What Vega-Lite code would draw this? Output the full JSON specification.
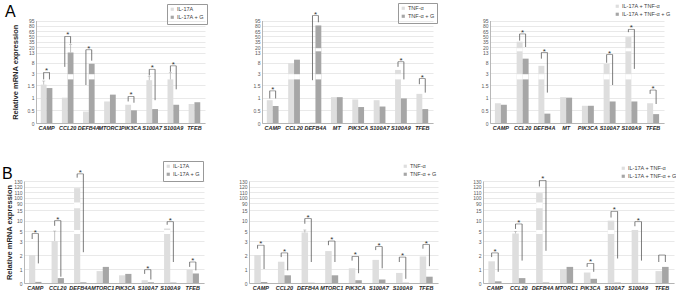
{
"$schema": "https://vega.github.io/schema/vega-lite/v6.json",
"autosize": {"type": "pad"},
"padding": {"left": 2, "top": 1, "right": 0, "bottom": 0},
"background": "white",
"config": {
  "view": {"stroke": null},
  "font": "Liberation Sans",
  "axis": {"labelOverlap": false, "labelFont": "Liberation Sans", "titleFont": "Liberation Sans", "domainColor": "#a6a6a6", "domainWidth": 0.8, "ticks": false},
  "axisY": {"grid": true, "gridColor": "#dadada", "gridWidth": 0.6, "labelFontSize": 5, "labelColor": "#595959", "labelPadding": 2, "titleFontSize": 7.5, "titleFontWeight": "bold", "titleColor": "#262626", "labelExpr": "'' + datum.value", "tickCount": 50},
  "axisX": {"grid": false, "labelAngle": 0, "labelFontSize": 5.5, "labelFontStyle": "italic", "labelFontWeight": "bold", "labelColor": "#262626", "labelPadding": 2},
  "legend": {"symbolType": "square", "symbolSize": 10, "labelFontSize": 5.5, "labelColor": "#404040", "padding": 2.5, "rowPadding": 1, "labelOffset": 2, "symbolStrokeWidth": 0, "labelFont": "Liberation Sans"}
},
"datasets": {
  "bars": [
    {"p":"TL","gene":"CAMP","grp":"IL-17A","v":1.55},{"p":"TL","gene":"CAMP","grp":"IL-17A + G","v":1.38},
    {"p":"TL","gene":"CCL20","grp":"IL-17A","v":1.0},{"p":"TL","gene":"CCL20","grp":"IL-17A + G","v":13},
    {"p":"TL","gene":"DEFB4A","grp":"IL-17A","v":0.45},{"p":"TL","gene":"DEFB4A","grp":"IL-17A + G","v":7.5},
    {"p":"TL","gene":"MTORC1","grp":"IL-17A","v":0.85},{"p":"TL","gene":"MTORC1","grp":"IL-17A + G","v":1.12},
    {"p":"TL","gene":"PIK3CA","grp":"IL-17A","v":0.72},{"p":"TL","gene":"PIK3CA","grp":"IL-17A + G","v":0.5},
    {"p":"TL","gene":"S100A7","grp":"IL-17A","v":2.1},{"p":"TL","gene":"S100A7","grp":"IL-17A + G","v":0.55},
    {"p":"TL","gene":"S100A9","grp":"IL-17A","v":2.2},{"p":"TL","gene":"S100A9","grp":"IL-17A + G","v":0.72},
    {"p":"TL","gene":"TFEB","grp":"IL-17A","v":0.75},{"p":"TL","gene":"TFEB","grp":"IL-17A + G","v":0.82},

    {"p":"TM","gene":"CAMP","grp":"TNF-α","v":0.9},{"p":"TM","gene":"CAMP","grp":"TNF-α + G","v":0.67},
    {"p":"TM","gene":"CCL20","grp":"TNF-α","v":7.8},{"p":"TM","gene":"CCL20","grp":"TNF-α + G","v":9.5},
    {"p":"TM","gene":"DEFB4A","grp":"TNF-α","v":0.02},{"p":"TM","gene":"DEFB4A","grp":"TNF-α + G","v":81},
    {"p":"TM","gene":"MT","grp":"TNF-α","v":1.02},{"p":"TM","gene":"MT","grp":"TNF-α + G","v":1.02},
    {"p":"TM","gene":"PIK3CA","grp":"TNF-α","v":0.93},{"p":"TM","gene":"PIK3CA","grp":"TNF-α + G","v":0.63},
    {"p":"TM","gene":"S100A7","grp":"TNF-α","v":0.9},{"p":"TM","gene":"S100A7","grp":"TNF-α + G","v":0.65},
    {"p":"TM","gene":"S100A9","grp":"TNF-α","v":4.5},{"p":"TM","gene":"S100A9","grp":"TNF-α + G","v":0.97},
    {"p":"TM","gene":"TFEB","grp":"TNF-α","v":1.15},{"p":"TM","gene":"TFEB","grp":"TNF-α + G","v":0.55},

    {"p":"TR","gene":"CAMP","grp":"IL-17A + TNF-α","v":0.78},{"p":"TR","gene":"CAMP","grp":"IL-17A + TNF-α + G","v":0.72},
    {"p":"TR","gene":"CCL20","grp":"IL-17A + TNF-α","v":35},{"p":"TR","gene":"CCL20","grp":"IL-17A + TNF-α + G","v":10},
    {"p":"TR","gene":"DEFB4A","grp":"IL-17A + TNF-α","v":6.5},{"p":"TR","gene":"DEFB4A","grp":"IL-17A + TNF-α + G","v":0.37},
    {"p":"TR","gene":"MT","grp":"IL-17A + TNF-α","v":1.02},{"p":"TR","gene":"MT","grp":"IL-17A + TNF-α + G","v":1.0},
    {"p":"TR","gene":"PIK3CA","grp":"IL-17A + TNF-α","v":0.68},{"p":"TR","gene":"PIK3CA","grp":"IL-17A + TNF-α + G","v":0.68},
    {"p":"TR","gene":"S100A7","grp":"IL-17A + TNF-α","v":7.4},{"p":"TR","gene":"S100A7","grp":"IL-17A + TNF-α + G","v":0.85},
    {"p":"TR","gene":"S100A9","grp":"IL-17A + TNF-α","v":48},{"p":"TR","gene":"S100A9","grp":"IL-17A + TNF-α + G","v":0.85},
    {"p":"TR","gene":"TFEB","grp":"IL-17A + TNF-α","v":0.78},{"p":"TR","gene":"TFEB","grp":"IL-17A + TNF-α + G","v":0.35},

    {"p":"BL","gene":"CAMP","grp":"IL-17A","v":2.0},{"p":"BL","gene":"CAMP","grp":"IL-17A + G","v":0.08},
    {"p":"BL","gene":"CCL20","grp":"IL-17A","v":3.0},{"p":"BL","gene":"CCL20","grp":"IL-17A + G","v":0.35},
    {"p":"BL","gene":"DEFB4A","grp":"IL-17A","v":117},{"p":"BL","gene":"DEFB4A","grp":"IL-17A + G","v":0.05},
    {"p":"BL","gene":"MTORC1","grp":"IL-17A","v":0.85},{"p":"BL","gene":"MTORC1","grp":"IL-17A + G","v":1.15},
    {"p":"BL","gene":"PIK3CA","grp":"IL-17A","v":0.55},{"p":"BL","gene":"PIK3CA","grp":"IL-17A + G","v":0.65},
    {"p":"BL","gene":"S100A7","grp":"IL-17A","v":0.2},{"p":"BL","gene":"S100A7","grp":"IL-17A + G","v":0.05},
    {"p":"BL","gene":"S100A9","grp":"IL-17A","v":6.2},{"p":"BL","gene":"S100A9","grp":"IL-17A + G","v":0.03},
    {"p":"BL","gene":"TFEB","grp":"IL-17A","v":0.95},{"p":"BL","gene":"TFEB","grp":"IL-17A + G","v":0.68},

    {"p":"BM","gene":"CAMP","grp":"TNF-α","v":2.0},{"p":"BM","gene":"CAMP","grp":"TNF-α + G","v":0.08},
    {"p":"BM","gene":"CCL20","grp":"TNF-α","v":1.52},{"p":"BM","gene":"CCL20","grp":"TNF-α + G","v":0.55},
    {"p":"BM","gene":"DEFB4A","grp":"TNF-α","v":4.7},{"p":"BM","gene":"DEFB4A","grp":"TNF-α + G","v":0.02},
    {"p":"BM","gene":"MTORC1","grp":"TNF-α","v":2.28},{"p":"BM","gene":"MTORC1","grp":"TNF-α + G","v":0.55},
    {"p":"BM","gene":"PIK3CA","grp":"TNF-α","v":1.05},{"p":"BM","gene":"PIK3CA","grp":"TNF-α + G","v":0.2},
    {"p":"BM","gene":"S100A7","grp":"TNF-α","v":1.65},{"p":"BM","gene":"S100A7","grp":"TNF-α + G","v":0.25},
    {"p":"BM","gene":"S100A9","grp":"TNF-α","v":0.72},{"p":"BM","gene":"S100A9","grp":"TNF-α + G","v":0.02},
    {"p":"BM","gene":"TFEB","grp":"TNF-α","v":1.9},{"p":"BM","gene":"TFEB","grp":"TNF-α + G","v":0.45},

    {"p":"BR","gene":"CAMP","grp":"IL-17A + TNF-α","v":1.55},{"p":"BR","gene":"CAMP","grp":"IL-17A + TNF-α + G","v":0.12},
    {"p":"BR","gene":"CCL20","grp":"IL-17A + TNF-α","v":4.5},{"p":"BR","gene":"CCL20","grp":"IL-17A + TNF-α + G","v":0.35},
    {"p":"BR","gene":"DEFB4A","grp":"IL-17A + TNF-α","v":108},{"p":"BR","gene":"DEFB4A","grp":"IL-17A + TNF-α + G","v":0.03},
    {"p":"BR","gene":"MTORC1","grp":"IL-17A + TNF-α","v":1.0},{"p":"BR","gene":"MTORC1","grp":"IL-17A + TNF-α + G","v":1.15},
    {"p":"BR","gene":"PIK3CA","grp":"IL-17A + TNF-α","v":0.75},{"p":"BR","gene":"PIK3CA","grp":"IL-17A + TNF-α + G","v":0.3},
    {"p":"BR","gene":"S100A7","grp":"IL-17A + TNF-α","v":10},{"p":"BR","gene":"S100A7","grp":"IL-17A + TNF-α + G","v":0.03},
    {"p":"BR","gene":"S100A9","grp":"IL-17A + TNF-α","v":5.5},{"p":"BR","gene":"S100A9","grp":"IL-17A + TNF-α + G","v":0.01},
    {"p":"BR","gene":"TFEB","grp":"IL-17A + TNF-α","v":0.85},{"p":"BR","gene":"TFEB","grp":"IL-17A + TNF-α + G","v":1.15}
  ],
  "err": [
    {"p":"TL","gene":"CAMP","grp":"IL-17A","lo":1.55,"hi":2.0},
    {"p":"TL","gene":"CCL20","grp":"IL-17A + G","lo":13,"hi":27},
    {"p":"TL","gene":"S100A7","grp":"IL-17A","lo":2.1,"hi":2.6},
    {"p":"TL","gene":"S100A9","grp":"IL-17A","lo":2.2,"hi":3.2},
    {"p":"BL","gene":"CCL20","grp":"IL-17A","lo":3.0,"hi":5.0},
    {"p":"BM","gene":"DEFB4A","grp":"TNF-α","lo":4.7,"hi":5.5},
    {"p":"BR","gene":"CCL20","grp":"IL-17A + TNF-α","lo":4.5,"hi":4.9}
  ],
  "brk": [
    {"p":"TL","gene":"CAMP","grp":"IL-17A","b":2.2,"t":3.3,"s":"*"},{"p":"TL","gene":"CAMP","grp":"IL-17A + G","b":2.2,"t":3.3,"s":"*"},
    {"p":"TL","gene":"CCL20","grp":"IL-17A","b":6,"t":50,"s":"*"},{"p":"TL","gene":"CCL20","grp":"IL-17A + G","b":30,"t":50,"s":"*"},
    {"p":"TL","gene":"DEFB4A","grp":"IL-17A","b":1.5,"t":16.5,"s":"*"},{"p":"TL","gene":"DEFB4A","grp":"IL-17A + G","b":9,"t":16.5,"s":"*"},
    {"p":"TL","gene":"PIK3CA","grp":"IL-17A","b":0.85,"t":1.05,"s":"*"},{"p":"TL","gene":"PIK3CA","grp":"IL-17A + G","b":0.8,"t":1.05,"s":"*"},
    {"p":"TL","gene":"S100A7","grp":"IL-17A","b":2.7,"t":4.8,"s":"*"},{"p":"TL","gene":"S100A7","grp":"IL-17A + G","b":0.9,"t":4.8,"s":"*"},
    {"p":"TL","gene":"S100A9","grp":"IL-17A","b":3.6,"t":6.5,"s":"*"},{"p":"TL","gene":"S100A9","grp":"IL-17A + G","b":1.33,"t":6.5,"s":"*"},

    {"p":"TM","gene":"CAMP","grp":"TNF-α","b":0.97,"t":1.27,"s":"*"},{"p":"TM","gene":"CAMP","grp":"TNF-α + G","b":0.97,"t":1.27,"s":"*"},
    {"p":"TM","gene":"DEFB4A","grp":"TNF-α","b":2.1,"t":109,"s":"*"},{"p":"TM","gene":"DEFB4A","grp":"TNF-α + G","b":90,"t":109,"s":"*"},
    {"p":"TM","gene":"S100A9","grp":"TNF-α","b":6,"t":8.5,"s":"*"},{"p":"TM","gene":"S100A9","grp":"TNF-α + G","b":2.2,"t":8.5,"s":"*"},
    {"p":"TM","gene":"TFEB","grp":"TNF-α","b":1.6,"t":2.3,"s":"*"},{"p":"TM","gene":"TFEB","grp":"TNF-α + G","b":1.2,"t":2.3,"s":"*"},

    {"p":"TR","gene":"CCL20","grp":"IL-17A + TNF-α","b":38,"t":57,"s":"*"},{"p":"TR","gene":"CCL20","grp":"IL-17A + TNF-α + G","b":20,"t":57,"s":"*"},
    {"p":"TR","gene":"DEFB4A","grp":"IL-17A + TNF-α","b":10,"t":13,"s":"*"},{"p":"TR","gene":"DEFB4A","grp":"IL-17A + TNF-α + G","b":1.2,"t":13,"s":"*"},
    {"p":"TR","gene":"S100A7","grp":"IL-17A + TNF-α","b":8,"t":12,"s":"*"},{"p":"TR","gene":"S100A7","grp":"IL-17A + TNF-α + G","b":1.5,"t":12,"s":"*"},
    {"p":"TR","gene":"S100A9","grp":"IL-17A + TNF-α","b":62,"t":70,"s":"*"},{"p":"TR","gene":"S100A9","grp":"IL-17A + TNF-α + G","b":5,"t":70,"s":"*"},
    {"p":"TR","gene":"TFEB","grp":"IL-17A + TNF-α","b":1.15,"t":1.3,"s":"*"},{"p":"TR","gene":"TFEB","grp":"IL-17A + TNF-α + G","b":0.75,"t":1.3,"s":"*"},

    {"p":"BL","gene":"CAMP","grp":"IL-17A","b":3.4,"t":4.5,"s":"*"},{"p":"BL","gene":"CAMP","grp":"IL-17A + G","b":1.4,"t":4.5,"s":"*"},
    {"p":"BL","gene":"CCL20","grp":"IL-17A","b":7.5,"t":10,"s":"*"},{"p":"BL","gene":"CCL20","grp":"IL-17A + G","b":0.45,"t":10,"s":"*"},
    {"p":"BL","gene":"DEFB4A","grp":"IL-17A","b":136,"t":143,"s":"*"},{"p":"BL","gene":"DEFB4A","grp":"IL-17A + G","b":2.2,"t":143,"s":"*"},
    {"p":"BL","gene":"S100A7","grp":"IL-17A","b":0.65,"t":0.95,"s":"*"},{"p":"BL","gene":"S100A7","grp":"IL-17A + G","b":0.25,"t":0.95,"s":"*"},
    {"p":"BL","gene":"S100A9","grp":"IL-17A","b":8,"t":9.5,"s":"*"},{"p":"BL","gene":"S100A9","grp":"IL-17A + G","b":1.5,"t":9.5,"s":"*"},
    {"p":"BL","gene":"TFEB","grp":"IL-17A","b":1.15,"t":1.5,"s":"*"},{"p":"BL","gene":"TFEB","grp":"IL-17A + G","b":0.9,"t":1.5,"s":"*"},

    {"p":"BM","gene":"CAMP","grp":"TNF-α","b":2.45,"t":2.7,"s":"*"},{"p":"BM","gene":"CAMP","grp":"TNF-α + G","b":1.0,"t":2.7,"s":"*"},
    {"p":"BM","gene":"CCL20","grp":"TNF-α","b":1.85,"t":2.15,"s":"*"},{"p":"BM","gene":"CCL20","grp":"TNF-α + G","b":0.9,"t":2.15,"s":"*"},
    {"p":"BM","gene":"DEFB4A","grp":"TNF-α","b":8.5,"t":11,"s":"*"},{"p":"BM","gene":"DEFB4A","grp":"TNF-α + G","b":1.5,"t":11,"s":"*"},
    {"p":"BM","gene":"MTORC1","grp":"TNF-α","b":2.7,"t":3.0,"s":"*"},{"p":"BM","gene":"MTORC1","grp":"TNF-α + G","b":1.5,"t":3.0,"s":"*"},
    {"p":"BM","gene":"PIK3CA","grp":"TNF-α","b":1.6,"t":1.9,"s":"*"},{"p":"BM","gene":"PIK3CA","grp":"TNF-α + G","b":0.7,"t":1.9,"s":"*"},
    {"p":"BM","gene":"S100A7","grp":"TNF-α","b":2.35,"t":2.6,"s":"*"},{"p":"BM","gene":"S100A7","grp":"TNF-α + G","b":1.05,"t":2.6,"s":"*"},
    {"p":"BM","gene":"S100A9","grp":"TNF-α","b":1.5,"t":1.85,"s":"*"},{"p":"BM","gene":"S100A9","grp":"TNF-α + G","b":0.3,"t":1.85,"s":"*"},
    {"p":"BM","gene":"TFEB","grp":"TNF-α","b":2.45,"t":2.75,"s":"*"},{"p":"BM","gene":"TFEB","grp":"TNF-α + G","b":1.2,"t":2.75,"s":"*"},

    {"p":"BR","gene":"CAMP","grp":"IL-17A + TNF-α","b":1.85,"t":2.15,"s":"*"},{"p":"BR","gene":"CAMP","grp":"IL-17A + TNF-α + G","b":0.8,"t":2.15,"s":"*"},
    {"p":"BR","gene":"CCL20","grp":"IL-17A + TNF-α","b":6,"t":8.4,"s":"*"},{"p":"BR","gene":"CCL20","grp":"IL-17A + TNF-α + G","b":1.6,"t":8.4,"s":"*"},
    {"p":"BR","gene":"DEFB4A","grp":"IL-17A + TNF-α","b":120,"t":131,"s":"*"},{"p":"BR","gene":"DEFB4A","grp":"IL-17A + TNF-α + G","b":2.3,"t":131,"s":"*"},
    {"p":"BR","gene":"PIK3CA","grp":"IL-17A + TNF-α","b":1.15,"t":1.4,"s":"*"},{"p":"BR","gene":"PIK3CA","grp":"IL-17A + TNF-α + G","b":0.8,"t":1.4,"s":"*"},
    {"p":"BR","gene":"S100A7","grp":"IL-17A + TNF-α","b":11.5,"t":14.5,"s":"*"},{"p":"BR","gene":"S100A7","grp":"IL-17A + TNF-α + G","b":1.75,"t":14.5,"s":"*"},
    {"p":"BR","gene":"S100A9","grp":"IL-17A + TNF-α","b":7.3,"t":9.5,"s":"*"},{"p":"BR","gene":"S100A9","grp":"IL-17A + TNF-α + G","b":1.6,"t":9.5,"s":"*"},
    {"p":"BR","gene":"TFEB","grp":"IL-17A + TNF-α","b":1.5,"t":2.0,"s":""},{"p":"BR","gene":"TFEB","grp":"IL-17A + TNF-α + G","b":1.5,"t":2.0,"s":""}
  ]
},
"spacing": 29,
"resolve": {"scale": {"x": "independent", "y": "independent", "color": "independent", "xOffset": "independent"}, "axis": {"x": "independent", "y": "independent"}, "legend": {"color": "independent"}},
"vconcat": [
{
  "spacing": 11,
  "bounds": "flush",
  "resolve": {"scale": {"x": "independent", "y": "independent", "color": "independent", "xOffset": "independent"}, "axis": {"x": "independent", "y": "independent"}, "legend": {"color": "independent"}},
  "hconcat": [
    {"width": 1, "height": 103, "data": {"values": []}, "mark": "point", "encoding": {}},
    {
      "spacing": 57,
      "bounds": "flush",
      "resolve": {"scale": {"x": "independent", "y": "independent", "color": "independent", "xOffset": "independent"}, "axis": {"x": "independent", "y": "independent"}, "legend": {"color": "independent"}},
      "hconcat": [
        {
          "width": 169, "height": 103,
          "title": {"text": "A", "anchor": "start", "frame": "group", "fontSize": 16, "fontWeight": "normal", "color": "#000", "dx": -31, "dy": 18, "offset": 2},
          "encoding": {"x": {"field": "gene", "type": "nominal", "title": null, "scale": {"domain": ["CAMP","CCL20","DEFB4A","MTORC1","PIK3CA","S100A7","S100A9","TFEB"], "paddingInner": 0.45, "paddingOuter": 0.225}}},
          "layer": [
            {"data": {"name": "bars"}, "transform": [{"filter": "datum.p=='TL'"}], "mark": "bar",
             "encoding": {
               "xOffset": {"field": "grp", "type": "nominal", "scale": {"domain": ["IL-17A","IL-17A + G"]}},
               "y": {"field": "v", "type": "quantitative", "title": "Relative mRNA expression", "scale": {"domain": [0,1.5,3,13,20,95], "range": [103,65,53,32.5,27,0.5], "nice": false, "zero": false}, "axis": {"values": [0,0.5,1,1.5,3,8,13,20,35,50,65,80,95], "tickCount": 50, "titlePadding": 8}},
               "y2": {"datum": 0},
               "color": {"field": "grp", "type": "nominal", "scale": {"domain": ["IL-17A","IL-17A + G"], "range": ["#dedede","#a6a6a6"]}, "legend": {"title": null, "orient": "none", "legendX": 131, "legendY": -16, "strokeColor": "#999"}}}},
            {"data": {"name": "bars"}, "transform": [{"filter": "datum.p=='TL' && datum.v > 2.9"}], "mark": {"type": "bar", "color": "white"},
             "encoding": {"xOffset": {"field": "grp", "type": "nominal"}, "y": {"datum": 2.2}, "y2": {"datum": 2.85}}},
            {"data": {"name": "err"}, "transform": [{"filter": "datum.p=='TL'"}], "mark": {"type": "rule", "color": "#9a9a9a", "strokeWidth": 0.6},
             "encoding": {"xOffset": {"field": "grp", "type": "nominal"}, "y": {"field": "lo", "type": "quantitative"}, "y2": {"field": "hi"}}},
            {"data": {"name": "err"}, "transform": [{"filter": "datum.p=='TL'"}], "mark": {"type": "tick", "orient": "horizontal", "size": 3, "thickness": 0.6, "color": "#9a9a9a"},
             "encoding": {"xOffset": {"field": "grp", "type": "nominal"}, "y": {"field": "hi", "type": "quantitative"}}},
            {"data": {"name": "brk"}, "transform": [{"filter": "datum.p=='TL'"}], "mark": {"type": "rule", "color": "#595959", "strokeWidth": 0.8},
             "encoding": {"xOffset": {"field": "grp", "type": "nominal"}, "y": {"field": "b", "type": "quantitative"}, "y2": {"field": "t"}}},
            {"data": {"name": "brk"}, "transform": [{"filter": "datum.p=='TL' && datum.grp=='IL-17A'"}], "mark": {"type": "tick", "orient": "horizontal", "size": 5.8, "thickness": 0.8, "color": "#595959"},
             "encoding": {"y": {"field": "t", "type": "quantitative"}}},
            {"data": {"name": "brk"}, "transform": [{"filter": "datum.p=='TL' && datum.grp=='IL-17A'"}], "mark": {"type": "text", "fontSize": 8, "dy": 1, "baseline": "alphabetic", "color": "#333"},
             "encoding": {"y": {"field": "t", "type": "quantitative"}, "text": {"field": "s"}}}
          ]
        },
        {
          "width": 171, "height": 103,
          "encoding": {"x": {"field": "gene", "type": "nominal", "title": null, "scale": {"domain": ["CAMP","CCL20","DEFB4A","MT","PIK3CA","S100A7","S100A9","TFEB"], "paddingInner": 0.45, "paddingOuter": 0.225}}},
          "layer": [
            {"data": {"name": "bars"}, "transform": [{"filter": "datum.p=='TM'"}], "mark": "bar",
             "encoding": {
               "xOffset": {"field": "grp", "type": "nominal", "scale": {"domain": ["TNF-α","TNF-α + G"]}},
               "y": {"field": "v", "type": "quantitative", "title": null, "scale": {"domain": [0,1.5,3,13,20,95], "range": [103,65,53,32.5,27,0.5], "nice": false, "zero": false}, "axis": {"values": [0,0.5,1,1.5,3,8,13,20,35,50,65,80,95], "tickCount": 50}},
               "y2": {"datum": 0},
               "color": {"field": "grp", "type": "nominal", "scale": {"domain": ["TNF-α","TNF-α + G"], "range": ["#dedede","#a6a6a6"]}, "legend": {"title": null, "orient": "none", "legendX": 136, "legendY": -17, "strokeColor": "#999"}}}},
            {"data": {"name": "bars"}, "transform": [{"filter": "datum.p=='TM' && datum.v > 2.9"}], "mark": {"type": "bar", "color": "white"},
             "encoding": {"xOffset": {"field": "grp", "type": "nominal"}, "y": {"datum": 2.2}, "y2": {"datum": 2.85}}},
            {"data": {"name": "bars"}, "transform": [{"filter": "datum.p=='TM' && datum.v > 19"}], "mark": {"type": "bar", "color": "white"},
             "encoding": {"xOffset": {"field": "grp", "type": "nominal"}, "y": {"datum": 14.5}, "y2": {"datum": 18.5}}},
            {"data": {"name": "brk"}, "transform": [{"filter": "datum.p=='TM'"}], "mark": {"type": "rule", "color": "#595959", "strokeWidth": 0.8},
             "encoding": {"xOffset": {"field": "grp", "type": "nominal"}, "y": {"field": "b", "type": "quantitative"}, "y2": {"field": "t"}}},
            {"data": {"name": "brk"}, "transform": [{"filter": "datum.p=='TM' && datum.grp=='TNF-α'"}], "mark": {"type": "tick", "orient": "horizontal", "size": 5.9, "thickness": 0.8, "color": "#595959"},
             "encoding": {"y": {"field": "t", "type": "quantitative"}}},
            {"data": {"name": "brk"}, "transform": [{"filter": "datum.p=='TM' && datum.grp=='TNF-α'"}], "mark": {"type": "text", "fontSize": 8, "dy": 1, "baseline": "alphabetic", "color": "#333"},
             "encoding": {"y": {"field": "t", "type": "quantitative"}, "text": {"field": "s"}}}
          ]
        },
        {
          "width": 174, "height": 103,
          "encoding": {"x": {"field": "gene", "type": "nominal", "title": null, "scale": {"domain": ["CAMP","CCL20","DEFB4A","MT","PIK3CA","S100A7","S100A9","TFEB"], "paddingInner": 0.45, "paddingOuter": 0.225}}},
          "layer": [
            {"data": {"name": "bars"}, "transform": [{"filter": "datum.p=='TR'"}], "mark": "bar",
             "encoding": {
               "xOffset": {"field": "grp", "type": "nominal", "scale": {"domain": ["IL-17A + TNF-α","IL-17A + TNF-α + G"]}},
               "y": {"field": "v", "type": "quantitative", "title": null, "scale": {"domain": [0,1.5,3,13,20,95], "range": [103,65,53,32.5,27,0.5], "nice": false, "zero": false}, "axis": {"values": [0,0.5,1,1.5,3,8,13,20,35,50,65,80,95], "tickCount": 50}},
               "y2": {"datum": 0},
               "color": {"field": "grp", "type": "nominal", "scale": {"domain": ["IL-17A + TNF-α","IL-17A + TNF-α + G"], "range": ["#dedede","#a6a6a6"]}, "legend": {"title": null, "orient": "none", "legendX": 122, "legendY": -19}}}},
            {"data": {"name": "bars"}, "transform": [{"filter": "datum.p=='TR' && datum.v > 2.9"}], "mark": {"type": "bar", "color": "white"},
             "encoding": {"xOffset": {"field": "grp", "type": "nominal"}, "y": {"datum": 2.2}, "y2": {"datum": 2.85}}},
            {"data": {"name": "bars"}, "transform": [{"filter": "datum.p=='TR' && datum.v > 19"}], "mark": {"type": "bar", "color": "white"},
             "encoding": {"xOffset": {"field": "grp", "type": "nominal"}, "y": {"datum": 14.5}, "y2": {"datum": 18.5}}},
            {"data": {"name": "brk"}, "transform": [{"filter": "datum.p=='TR'"}], "mark": {"type": "rule", "color": "#595959", "strokeWidth": 0.8},
             "encoding": {"xOffset": {"field": "grp", "type": "nominal"}, "y": {"field": "b", "type": "quantitative"}, "y2": {"field": "t"}}},
            {"data": {"name": "brk"}, "transform": [{"filter": "datum.p=='TR' && datum.grp=='IL-17A + TNF-α'"}], "mark": {"type": "tick", "orient": "horizontal", "size": 6, "thickness": 0.8, "color": "#595959"},
             "encoding": {"y": {"field": "t", "type": "quantitative"}}},
            {"data": {"name": "brk"}, "transform": [{"filter": "datum.p=='TR' && datum.grp=='IL-17A + TNF-α'"}], "mark": {"type": "text", "fontSize": 8, "dy": 1, "baseline": "alphabetic", "color": "#333"},
             "encoding": {"y": {"field": "t", "type": "quantitative"}, "text": {"field": "s"}}}
          ]
        }
      ]
    }
  ]
},
{
  "spacing": 45,
  "bounds": "flush",
  "resolve": {"scale": {"x": "independent", "y": "independent", "color": "independent", "xOffset": "independent"}, "axis": {"x": "independent", "y": "independent"}, "legend": {"color": "independent"}},
  "hconcat": [
    {
      "width": 180, "height": 102,
      "title": {"text": "B", "anchor": "start", "frame": "group", "fontSize": 16, "fontWeight": "normal", "color": "#000", "dx": -22, "dy": 24, "offset": 3},
      "encoding": {"x": {"field": "gene", "type": "nominal", "title": null, "scale": {"domain": ["CAMP","CCL20","DEFB4A","MTORC1","PIK3CA","S100A7","S100A9","TFEB"], "paddingInner": 0.45, "paddingOuter": 0.225}}},
      "layer": [
        {"data": {"name": "bars"}, "transform": [{"filter": "datum.p=='BL'"}], "mark": "bar",
         "encoding": {
           "xOffset": {"field": "grp", "type": "nominal", "scale": {"domain": ["IL-17A","IL-17A + G"]}},
           "y": {"field": "v", "type": "quantitative", "title": "Relative mRNA expression", "scale": {"domain": [0,3,5,15,90,130], "range": [102,60,50,29.3,22,0], "nice": false, "zero": false}, "axis": {"values": [0,1,2,3,5,10,15,90,100,110,120,130], "tickCount": 50, "titlePadding": 0}},
           "y2": {"datum": 0},
           "color": {"field": "grp", "type": "nominal", "scale": {"domain": ["IL-17A","IL-17A + G"], "range": ["#dedede","#a6a6a6"]}, "legend": {"title": null, "orient": "none", "legendX": 139, "legendY": -20, "strokeColor": "#999"}}}},
        {"data": {"name": "bars"}, "transform": [{"filter": "datum.p=='BL' && datum.v > 5.6"}], "mark": {"type": "bar", "color": "white"},
         "encoding": {"xOffset": {"field": "grp", "type": "nominal"}, "y": {"datum": 4.4}, "y2": {"datum": 5.5}}},
        {"data": {"name": "bars"}, "transform": [{"filter": "datum.p=='BL' && datum.v > 92"}], "mark": {"type": "bar", "color": "white"},
         "encoding": {"xOffset": {"field": "grp", "type": "nominal"}, "y": {"datum": 36}, "y2": {"datum": 91}}},
        {"data": {"name": "err"}, "transform": [{"filter": "datum.p=='BL'"}], "mark": {"type": "rule", "color": "#9a9a9a", "strokeWidth": 0.6},
         "encoding": {"xOffset": {"field": "grp", "type": "nominal"}, "y": {"field": "lo", "type": "quantitative"}, "y2": {"field": "hi"}}},
        {"data": {"name": "err"}, "transform": [{"filter": "datum.p=='BL'"}], "mark": {"type": "tick", "orient": "horizontal", "size": 3, "thickness": 0.6, "color": "#9a9a9a"},
         "encoding": {"xOffset": {"field": "grp", "type": "nominal"}, "y": {"field": "hi", "type": "quantitative"}}},
        {"data": {"name": "brk"}, "transform": [{"filter": "datum.p=='BL'"}], "mark": {"type": "rule", "color": "#595959", "strokeWidth": 0.8},
         "encoding": {"xOffset": {"field": "grp", "type": "nominal"}, "y": {"field": "b", "type": "quantitative"}, "y2": {"field": "t"}}},
        {"data": {"name": "brk"}, "transform": [{"filter": "datum.p=='BL' && datum.grp=='IL-17A'"}], "mark": {"type": "tick", "orient": "horizontal", "size": 6.2, "thickness": 0.8, "color": "#595959"},
         "encoding": {"y": {"field": "t", "type": "quantitative"}}},
        {"data": {"name": "brk"}, "transform": [{"filter": "datum.p=='BL' && datum.grp=='IL-17A'"}], "mark": {"type": "text", "fontSize": 8, "dy": 1, "baseline": "alphabetic", "color": "#333"},
         "encoding": {"y": {"field": "t", "type": "quantitative"}, "text": {"field": "s"}}}
      ]
    },
    {
      "width": 189, "height": 102,
      "encoding": {"x": {"field": "gene", "type": "nominal", "title": null, "scale": {"domain": ["CAMP","CCL20","DEFB4A","MTORC1","PIK3CA","S100A7","S100A9","TFEB"], "paddingInner": 0.45, "paddingOuter": 0.225}}},
      "layer": [
        {"data": {"name": "bars"}, "transform": [{"filter": "datum.p=='BM'"}], "mark": "bar",
         "encoding": {
           "xOffset": {"field": "grp", "type": "nominal", "scale": {"domain": ["TNF-α","TNF-α + G"]}},
           "y": {"field": "v", "type": "quantitative", "title": null, "scale": {"domain": [0,3,5,15,90,130], "range": [102,60,50,29.3,22,0], "nice": false, "zero": false}, "axis": {"values": [0,1,2,3,5,10,15,90,100,110,120,130], "tickCount": 50}},
           "y2": {"datum": 0},
           "color": {"field": "grp", "type": "nominal", "scale": {"domain": ["TNF-α","TNF-α + G"], "range": ["#dedede","#a6a6a6"]}, "legend": {"title": null, "orient": "none", "legendX": 151, "legendY": -20}}}},
        {"data": {"name": "err"}, "transform": [{"filter": "datum.p=='BM'"}], "mark": {"type": "rule", "color": "#9a9a9a", "strokeWidth": 0.6},
         "encoding": {"xOffset": {"field": "grp", "type": "nominal"}, "y": {"field": "lo", "type": "quantitative"}, "y2": {"field": "hi"}}},
        {"data": {"name": "err"}, "transform": [{"filter": "datum.p=='BM'"}], "mark": {"type": "tick", "orient": "horizontal", "size": 3, "thickness": 0.6, "color": "#9a9a9a"},
         "encoding": {"xOffset": {"field": "grp", "type": "nominal"}, "y": {"field": "hi", "type": "quantitative"}}},
        {"data": {"name": "brk"}, "transform": [{"filter": "datum.p=='BM'"}], "mark": {"type": "rule", "color": "#595959", "strokeWidth": 0.8},
         "encoding": {"xOffset": {"field": "grp", "type": "nominal"}, "y": {"field": "b", "type": "quantitative"}, "y2": {"field": "t"}}},
        {"data": {"name": "brk"}, "transform": [{"filter": "datum.p=='BM' && datum.grp=='TNF-α'"}], "mark": {"type": "tick", "orient": "horizontal", "size": 6.5, "thickness": 0.8, "color": "#595959"},
         "encoding": {"y": {"field": "t", "type": "quantitative"}}},
        {"data": {"name": "brk"}, "transform": [{"filter": "datum.p=='BM' && datum.grp=='TNF-α'"}], "mark": {"type": "text", "fontSize": 8, "dy": 1, "baseline": "alphabetic", "color": "#333"},
         "encoding": {"y": {"field": "t", "type": "quantitative"}, "text": {"field": "s"}}}
      ]
    },
    {
      "width": 191, "height": 102,
      "encoding": {"x": {"field": "gene", "type": "nominal", "title": null, "scale": {"domain": ["CAMP","CCL20","DEFB4A","MTORC1","PIK3CA","S100A7","S100A9","TFEB"], "paddingInner": 0.45, "paddingOuter": 0.225}}},
      "layer": [
        {"data": {"name": "bars"}, "transform": [{"filter": "datum.p=='BR'"}], "mark": "bar",
         "encoding": {
           "xOffset": {"field": "grp", "type": "nominal", "scale": {"domain": ["IL-17A + TNF-α","IL-17A + TNF-α + G"]}},
           "y": {"field": "v", "type": "quantitative", "title": null, "scale": {"domain": [0,3,5,15,90,130], "range": [102,60,50,29.3,22,0], "nice": false, "zero": false}, "axis": {"values": [0,1,2,3,5,10,15,90,100,110,120,130], "tickCount": 50}},
           "y2": {"datum": 0},
           "color": {"field": "grp", "type": "nominal", "scale": {"domain": ["IL-17A + TNF-α","IL-17A + TNF-α + G"], "range": ["#dedede","#a6a6a6"]}, "legend": {"title": null, "orient": "none", "legendX": 135, "legendY": -18}}}},
        {"data": {"name": "bars"}, "transform": [{"filter": "datum.p=='BR' && datum.v > 5.6"}], "mark": {"type": "bar", "color": "white"},
         "encoding": {"xOffset": {"field": "grp", "type": "nominal"}, "y": {"datum": 4.4}, "y2": {"datum": 5.5}}},
        {"data": {"name": "bars"}, "transform": [{"filter": "datum.p=='BR' && datum.v > 92"}], "mark": {"type": "bar", "color": "white"},
         "encoding": {"xOffset": {"field": "grp", "type": "nominal"}, "y": {"datum": 36}, "y2": {"datum": 91}}},
        {"data": {"name": "err"}, "transform": [{"filter": "datum.p=='BR'"}], "mark": {"type": "rule", "color": "#9a9a9a", "strokeWidth": 0.6},
         "encoding": {"xOffset": {"field": "grp", "type": "nominal"}, "y": {"field": "lo", "type": "quantitative"}, "y2": {"field": "hi"}}},
        {"data": {"name": "err"}, "transform": [{"filter": "datum.p=='BR'"}], "mark": {"type": "tick", "orient": "horizontal", "size": 3, "thickness": 0.6, "color": "#9a9a9a"},
         "encoding": {"xOffset": {"field": "grp", "type": "nominal"}, "y": {"field": "hi", "type": "quantitative"}}},
        {"data": {"name": "brk"}, "transform": [{"filter": "datum.p=='BR'"}], "mark": {"type": "rule", "color": "#595959", "strokeWidth": 0.8},
         "encoding": {"xOffset": {"field": "grp", "type": "nominal"}, "y": {"field": "b", "type": "quantitative"}, "y2": {"field": "t"}}},
        {"data": {"name": "brk"}, "transform": [{"filter": "datum.p=='BR' && datum.grp=='IL-17A + TNF-α'"}], "mark": {"type": "tick", "orient": "horizontal", "size": 6.6, "thickness": 0.8, "color": "#595959"},
         "encoding": {"y": {"field": "t", "type": "quantitative"}}},
        {"data": {"name": "brk"}, "transform": [{"filter": "datum.p=='BR' && datum.grp=='IL-17A + TNF-α'"}], "mark": {"type": "text", "fontSize": 8, "dy": 1, "baseline": "alphabetic", "color": "#333"},
         "encoding": {"y": {"field": "t", "type": "quantitative"}, "text": {"field": "s"}}}
      ]
    }
  ]
}
]
}
